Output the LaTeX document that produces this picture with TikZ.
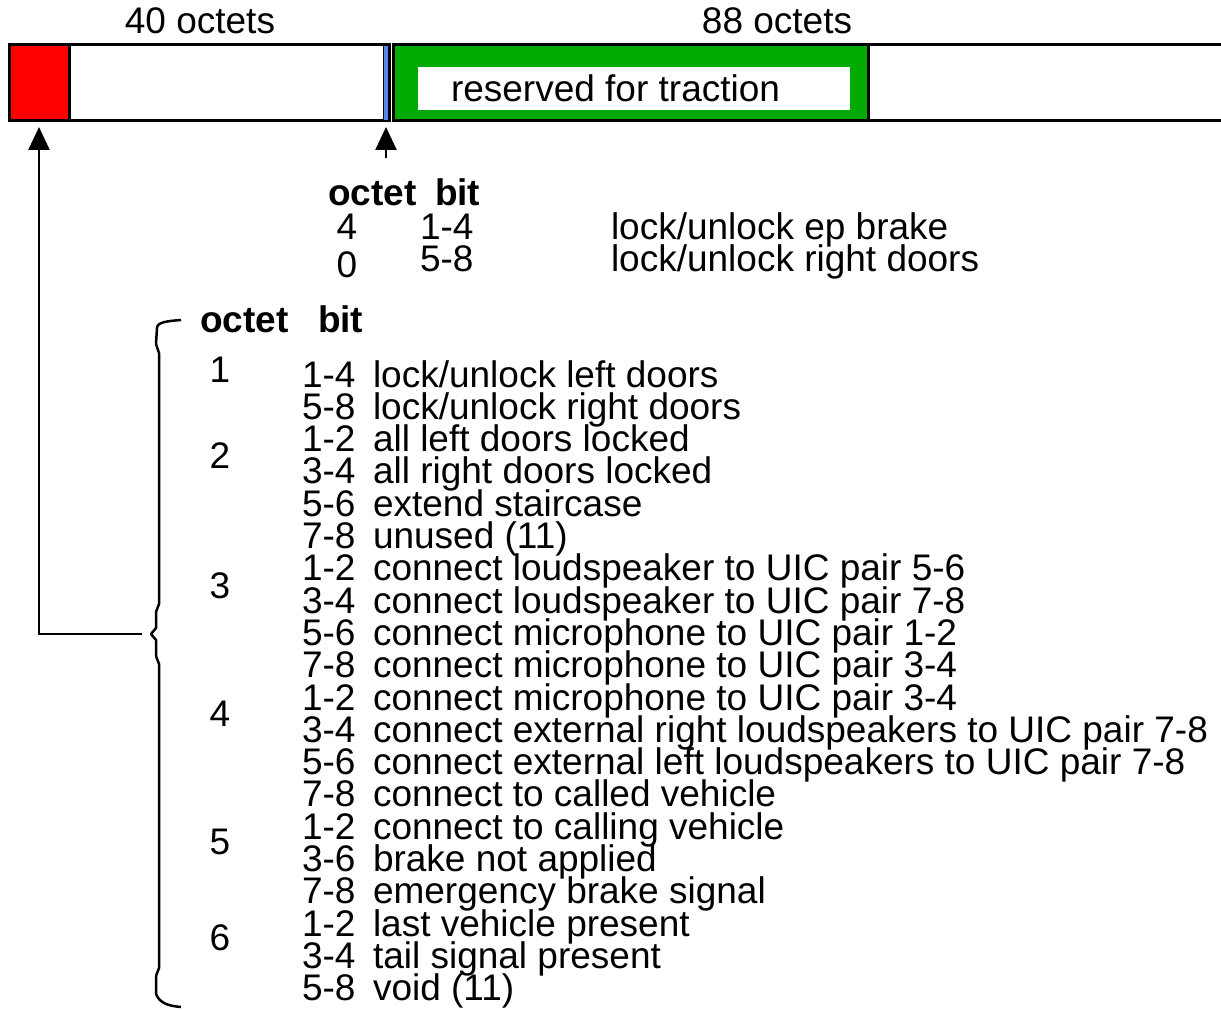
\documentclass[tikz,border=0pt]{standalone}
\usepackage{fontspec}
\setmainfont{Liberation Sans}
\usetikzlibrary{arrows.meta,positioning,calc}
\definecolor{FieldRed}{HTML}{FF0000}
\definecolor{FieldGreen}{HTML}{00AA00}
\definecolor{FieldBlue}{HTML}{5B84E8}

\begin{document}
\begin{tikzpicture}[x=1pt,y=-1pt,
  every node/.style={inner sep=0pt,outer sep=0pt},
  txt/.style={anchor=base west,font=\fontsize{37}{32}\selectfont},
  num/.style={anchor=base,font=\fontsize{37}{32}\selectfont},
  head/.style={anchor=base west,font=\fontsize{37}{32}\selectfont\bfseries},
  fieldbox/.style={draw,line width=3pt,anchor=north west,minimum height=76pt},
  link/.style={line width=2.5pt,shorten >=6pt,-{Triangle[width=21pt,length=23pt]}}]
  \useasboundingbox (0,0) rectangle (1221,1011);

  \draw[line width=3pt] (9,45) rectangle (389,121);
  \draw[line width=3pt] (1225,45) -- (393,45) -- (393,121) -- (1225,121);
  \node[fieldbox,fill=FieldRed,minimum width=60pt] (redcell) at (9,45) {};
  \node[fieldbox,line width=1.5pt,fill=FieldBlue,minimum width=5pt] (gap) at (383.5,45) {};
  \node[fieldbox,fill=FieldGreen,minimum width=475pt] (traction) at (393,45) {};
  \node[fill=white,anchor=north west,minimum width=432pt,minimum height=43pt] (tractionbox) at (418,67) {};
  \node[txt] (tractionlbl) at (451,102) {reserved for traction};
  \node[num] (len40) at (200,34) {40 octets};
  \node[num] (len88) at (777,34) {88 octets};

  \node[head] (topoctet) at (328,206) {octet};
  \node[head] (topbit) at (435,206) {bit};
  \node[num] (topo1) at (347,240) {4};
  \node[txt] (topb1) at (420,240) {1-4};
  \node[txt] (topd1) at (611,240) {lock/unlock ep brake};
  \node[num] (topo2) at (347,277) {0};
  \node[txt] (topb2) at (420,272) {5-8};
  \node[txt] (topd2) at (611,272) {lock/unlock right doors};

  \node[head] (octethead) at (200,332) {octet};
  \node[head] (bithead) at (318,332) {bit};
  \foreach \o/\y in {1/382,2/468,3/598,4/726,5/854,6/950}
    \node[num] (oct\o) at (220,\y) {\o};
  \foreach \b/\d [count=\i from 0] in {
      {1-4}/{lock/unlock left doors},
      {5-8}/{lock/unlock right doors},
      {1-2}/{all left doors locked},
      {3-4}/{all right doors locked},
      {5-6}/{extend staircase},
      {7-8}/{unused (11)},
      {1-2}/{connect loudspeaker to UIC pair 5-6},
      {3-4}/{connect loudspeaker to UIC pair 7-8},
      {5-6}/{connect microphone to UIC pair 1-2},
      {7-8}/{connect microphone to UIC pair 3-4},
      {1-2}/{connect microphone to UIC pair 3-4},
      {3-4}/{connect external right loudspeakers to UIC pair 7-8},
      {5-6}/{connect external left loudspeakers to UIC pair 7-8},
      {7-8}/{connect to called vehicle},
      {1-2}/{connect to calling vehicle},
      {3-6}/{brake not applied},
      {7-8}/{emergency brake signal},
      {1-2}/{last vehicle present},
      {3-4}/{tail signal present},
      {5-8}/{void (11)}} {
    \node[txt] (bits\i) at (302,387+32.3*\i) {\b};
    \node[txt] (desc\i) at (373,387+32.3*\i) {\d};
  }

  \coordinate (bracetip) at (151,634);
  \draw[line width=2.5pt,line join=round]
    (181,320) .. controls (168,321) and (157,322) .. (157,328) -- (156,344) -- (159,353)
    -- (159,604) -- (156,612) -- (156,628) -- (bracetip) -- (156,640) -- (156,656)
    -- (159,664) -- (159,968) -- (156,976) -- (156,994)
    .. controls (160,1004) and (170,1006) .. (181,1007);
  \coordinate (bytefoot) at (386,158);
  \draw[link] ([xshift=-9pt]bracetip) -| (redcell.south);
  \draw[link] (bytefoot) -- (gap.south);
\end{tikzpicture}
\end{document}
